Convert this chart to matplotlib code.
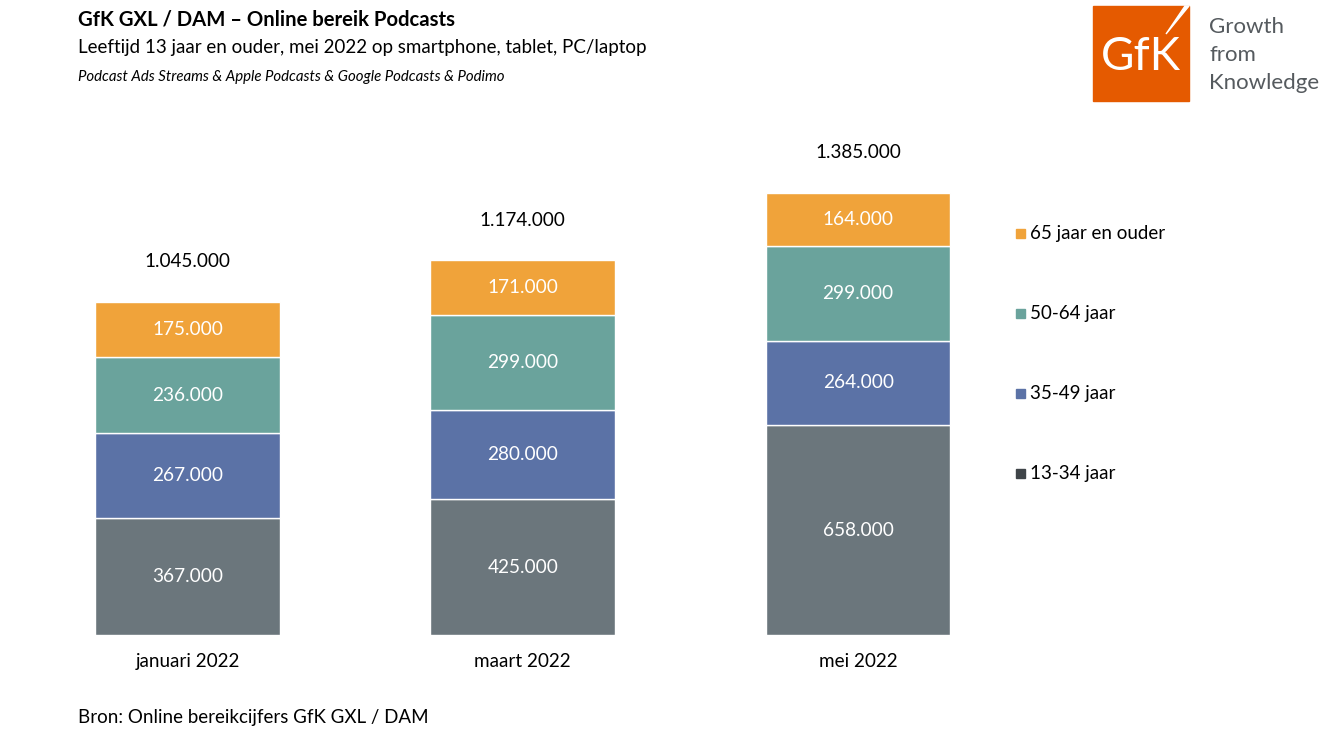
import matplotlib.pyplot as plt
from matplotlib.patches import Rectangle, Polygon
import numpy as np

plt.rcParams['font.family'] = ['Lato', 'DejaVu Sans']

months = ["januari 2022", "maart 2022", "mei 2022"]
groups = ["13-34 jaar", "35-49 jaar", "50-64 jaar", "65 jaar en ouder"]
v_13_34 = [367000, 425000, 658000]
v_35_49 = [267000, 280000, 264000]
v_50_64 = [236000, 299000, 299000]
v_65plus = [175000, 171000, 164000]
totals = [1045000, 1174000, 1385000]

bar_colors = ["#6b767c", "#5b72a6", "#6aa39c", "#f0a33a"]
legend_colors = ["#3f4448", "#5b72a6", "#6aa39c", "#f0a33a"]

W, H = 1319, 741
fig = plt.figure(figsize=(W / 100, H / 100), dpi=100)

# axes placed in pixel terms: bar centres at 187.5, 523, 858, baseline y=635
ax = fig.add_axes([19.75 / W, 106 / H, 1006 / W, 478.5 / H])
ax.set_xlim(-0.5, 2.5)
ax.set_ylim(0, 1500000)
ax.axis("off")

x = np.arange(len(months))
width = 0.551
bottom = np.zeros(len(months))
for vals, col in zip([v_13_34, v_35_49, v_50_64, v_65plus], bar_colors):
    vals = np.array(vals)
    ax.bar(x, vals, width, bottom=bottom, color=col, edgecolor="white", linewidth=1)
    for xi, b, v in zip(x, bottom, vals):
        ax.text(xi, b + v / 2, f"{v:,}".replace(",", "."), ha="center", va="center",
                color="white", fontsize=13.7)
    bottom += vals

for xi, t in zip(x, totals):
    ax.annotate(f"{t:,}".replace(",", "."), (xi, t), xytext=(0, 29), textcoords="offset points",
                ha="center", va="center", fontsize=13.6, color="black")

for xi, m in zip(x, months):
    ax.annotate(m, (xi, 0), xytext=(0, -19), textcoords="offset points",
                ha="center", va="center", fontsize=13.6, color="black")

# legend
leg_y = [473, 393, 313, 233]
for g, col, yy in zip(groups, legend_colors, leg_y):
    fig.add_artist(Rectangle((1016 / W, (H - yy - 4.5) / H), 9 / W, 9 / H,
                             transform=fig.transFigure, color=col))
    fig.text(1030 / W, 1 - yy / H, g, ha="left", va="center", fontsize=13.5)

# titles
fig.text(78 / W, 1 - 19 / H, "GfK GXL / DAM \u2013 Online bereik Podcasts", ha="left", va="center",
         fontsize=14.6, fontweight="bold")
fig.text(78 / W, 1 - 48 / H, "Leeftijd 13 jaar en ouder, mei 2022 op smartphone, tablet, PC/laptop",
         ha="left", va="center", fontsize=13.5)
fig.text(78 / W, 1 - 77 / H, "Podcast Ads Streams & Apple Podcasts & Google Podcasts & Podimo",
         ha="left", va="center", fontsize=10.8, style="italic")
fig.text(78 / W, 1 - 718 / H, "Bron: Online bereikcijfers GfK GXL / DAM", ha="left", va="center",
         fontsize=13.5)

# logo
fig.add_artist(Rectangle((1093 / W, (H - 101) / H), 96 / W, 95 / H,
                         transform=fig.transFigure, color="#e55a00"))
fig.add_artist(Polygon([(1189 / W, 1 - 6 / H), (1185 / W, 1 - 6 / H), (1166 / W, 1 - 34 / H)],
                       closed=True, transform=fig.transFigure, color="white"))
fig.text(1141 / W, 1 - 57 / H, "GfK", ha="center", va="center", fontsize=33,
         fontweight="normal", color="white")
for line, yy in zip(["Growth", "from", "Knowledge"], [27, 55, 83]):
    fig.text(1209 / W, 1 - yy / H, line, ha="left", va="center", fontsize=16, color="#555a5e")

fig.savefig("out.png", dpi=100)
